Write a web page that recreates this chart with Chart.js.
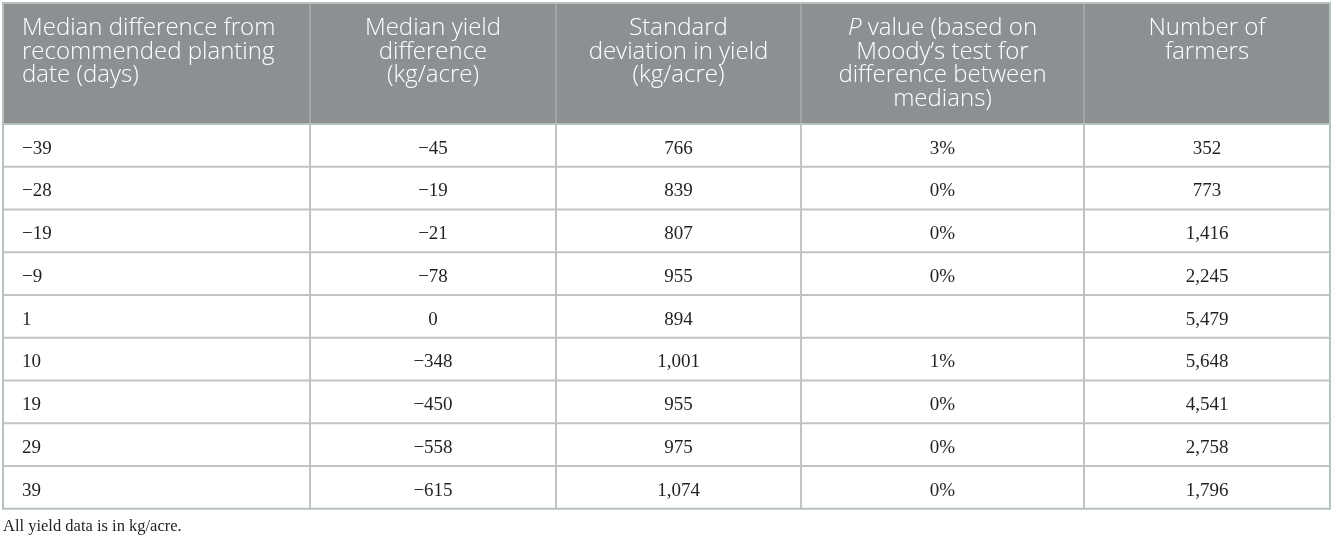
<!DOCTYPE html>
<html lang="en">
<head>
<meta charset="utf-8">
<title>Planting date and yield</title>
<script src="https://cdn.jsdelivr.net/npm/chart.js@4.4.1/dist/chart.umd.min.js"></script>
<style>
  html, body { margin: 0; padding: 0; background: #ffffff; }
  #tabela { display: block; }
</style>
</head>
<body>
<canvas id="tabela" width="1333" height="540"></canvas>
<script>
const $ = id => document.getElementById(id);

// dados da tabela
const diasPlantio = [-39, -28, -19, -9, 1, 10, 19, 29, 39];
const difProducao = [-45, -19, -21, -78, 0, -348, -450, -558, -615];
const desvioPadrao = [766, 839, 807, 955, 894, 1001, 955, 975, 1074];
const valorP = [3, 0, 0, 0, null, 1, 0, 0, 0];
const agricultores = [352, 773, 1416, 2245, 5479, 5648, 4541, 2758, 1796];

const cabecalhos = [
    ["Median difference from", "recommended planting", "date (days)"],
    ["Median yield", "difference", "(kg/acre)"],
    ["Standard", "deviation in yield", "(kg/acre)"],
    ["*P* value (based on", "Moody\u2019s test for", "difference between", "medians)"],
    ["Number of", "farmers"]
];
const nota = "All yield data is in kg/acre.";

// layout (em unidades das escalas)
const colunas = [3, 310, 556, 801, 1084, 1330];
const topo = 3, fimCabecalho = 124, alturaLinha = 42.75;

const fmt = n => (n < 0 ? "\u2212" : "") + Math.abs(n).toLocaleString("en-US");
const colunasTexto = [
    diasPlantio.map(fmt),
    difProducao.map(fmt),
    desvioPadrao.map(fmt),
    valorP.map(v => v === null ? "" : v + "%"),
    agricultores.map(fmt)
];

// texto real de apoio dentro do canvas
$("tabela").innerHTML = "<table><tr>" + cabecalhos.map(h => "<th>" + h.join(" ").replace(/\*/g, "") + "</th>").join("") + "</tr>" +
    diasPlantio.map((_, i) => "<tr>" + colunasTexto.map(c => "<td>" + c[i] + "</td>").join("") + "</tr>").join("") +
    "</table><p>" + nota + "</p>";

const fonteCab = '300 24px "Open Sans", sans-serif';
const fonteCabItalico = 'italic 300 24px "Open Sans", sans-serif';
const fonteCorpo = '19px "Liberation Serif", "Times New Roman", serif';

function linhaCabecalho(ctx, texto, x, y, centro) {
    const partes = texto.split("*").map((t, i) => ({ t, italico: i % 2 === 1 })).filter(p => p.t);
    let largura = 0;
    partes.forEach(p => {
        ctx.font = p.italico ? fonteCabItalico : fonteCab;
        p.w = ctx.measureText(p.t).width;
        largura += p.w;
    });
    let cx = centro ? x - largura / 2 : x;
    partes.forEach(p => {
        ctx.font = p.italico ? fonteCabItalico : fonteCab;
        ctx.fillText(p.t, cx, y);
        cx += p.w;
    });
}

const desenhaTabela = {
    id: "desenhaTabela",
    afterDraw(chart) {
        const { ctx, scales: { x, y } } = chart;
        const px = v => x.getPixelForValue(v);
        const py = v => y.getPixelForValue(v);
        const n = diasPlantio.length;
        const fim = fimCabecalho + n * alturaLinha;
        const esq = px(colunas[0]), dir = px(colunas[colunas.length - 1]);

        ctx.save();

        // cabeçalho
        ctx.fillStyle = "#8d9093";
        ctx.fillRect(esq, py(topo), dir - esq, py(fimCabecalho) - py(topo));

        ctx.lineWidth = 2;
        ctx.strokeStyle = "#a2a5a7";
        for (let c = 1; c < colunas.length - 1; c++) {
            ctx.beginPath();
            ctx.moveTo(px(colunas[c]), py(topo));
            ctx.lineTo(px(colunas[c]), py(fimCabecalho));
            ctx.stroke();
        }

        // grade do corpo
        ctx.strokeStyle = "#c3c3c3";
        for (let r = 1; r < n; r++) {
            const yy = py(fimCabecalho + r * alturaLinha);
            ctx.beginPath();
            ctx.moveTo(esq, yy);
            ctx.lineTo(dir, yy);
            ctx.stroke();
        }
        for (let c = 1; c < colunas.length - 1; c++) {
            ctx.beginPath();
            ctx.moveTo(px(colunas[c]), py(fimCabecalho));
            ctx.lineTo(px(colunas[c]), py(fim));
            ctx.stroke();
        }

        // borda externa
        ctx.strokeStyle = "#b6c3bd";
        ctx.strokeRect(esq, py(topo), dir - esq, py(fim) - py(topo));
        ctx.beginPath();
        ctx.moveTo(esq, py(fimCabecalho));
        ctx.lineTo(dir, py(fimCabecalho));
        ctx.stroke();

        // textos do cabeçalho
        ctx.fillStyle = "#ffffff";
        ctx.textBaseline = "alphabetic";
        ctx.textAlign = "left";
        cabecalhos.forEach((linhas, c) => {
            const centro = c > 0;
            const xx = centro ? (px(colunas[c]) + px(colunas[c + 1])) / 2 : px(colunas[c]) + 19;
            linhas.forEach((t, k) => linhaCabecalho(ctx, t, xx, py(topo + 32 + k * 23.5), centro));
        });

        // textos do corpo
        ctx.fillStyle = "#231f20";
        ctx.font = fonteCorpo;
        colunasTexto.forEach((valores, c) => {
            ctx.textAlign = c === 0 ? "left" : "center";
            const xx = c === 0 ? px(colunas[c]) + 19 : (px(colunas[c]) + px(colunas[c + 1])) / 2;
            valores.forEach((t, i) => {
                ctx.fillText(t, xx, py(fimCabecalho + i * alturaLinha + 29.5));
            });
        });

        // nota
        ctx.textAlign = "left";
        ctx.font = '16.5px "Liberation Serif", "Times New Roman", serif';
        ctx.fillText(nota, px(colunas[0]), py(531));

        ctx.restore();
    }
};

window.onload = () => {
    new Chart($("tabela"), {
        type: "scatter",
        data: { datasets: [] },
        options: {
            responsive: false,
            animation: false,
            devicePixelRatio: 1,
            layout: { padding: 0 },
            events: [],
            plugins: {
                legend: { display: false },
                tooltip: { enabled: false }
            },
            scales: {
                x: { type: "linear", min: 0, max: 1333, display: false },
                y: { type: "linear", min: 0, max: 540, reverse: true, display: false }
            }
        },
        plugins: [desenhaTabela]
    });
};
</script>
</body>
</html>
